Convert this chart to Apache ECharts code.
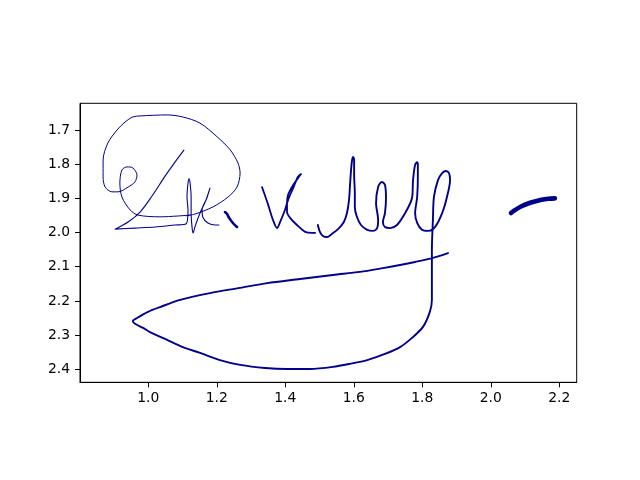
<!DOCTYPE html>
<html>
<head>
<meta charset="utf-8">
<script src="https://cdn.jsdelivr.net/npm/echarts@6/dist/echarts.min.js"></script>
<style>html,body{margin:0;padding:0;background:#fff}#c{width:640px;height:480px}</style>
</head>
<body>
<div id="c"></div>
<script>
// Signature strokes: [x, y] pairs in data units
var strokeLoop = [[1.122,1.949],[1.034,1.954],[0.970,1.949],[0.947,1.934],[0.923,1.896],[0.917,1.855],[0.923,1.817],[0.938,1.808],[0.955,1.811],[0.967,1.832],[0.961,1.852],[0.941,1.867],[0.912,1.881],[0.894,1.881],[0.874,1.867],[0.868,1.837],[0.868,1.788],[0.882,1.738],[0.909,1.700],[0.932,1.677],[0.955,1.662],[0.976,1.659],[1.055,1.656],[1.101,1.662],[1.151,1.680],[1.201,1.720],[1.239,1.758],[1.262,1.797],[1.268,1.826],[1.259,1.867],[1.233,1.896],[1.189,1.925],[1.136,1.946],[1.110,1.951]];
var strokeDiag = [[1.104,1.759],[1.078,1.794],[1.049,1.835],[1.011,1.893],[0.976,1.940],[0.941,1.969],[0.903,1.990],[0.961,1.987],[1.020,1.984],[1.078,1.978],[1.110,1.975],[1.116,1.934],[1.113,1.896],[1.116,1.855],[1.119,1.843],[1.122,1.855],[1.125,1.896],[1.125,1.943],[1.128,1.987],[1.131,2.001],[1.136,1.984],[1.151,1.943],[1.166,1.911],[1.180,1.870],[1.171,1.899],[1.157,1.934],[1.160,1.957],[1.174,1.972],[1.195,1.978],[1.206,1.978]];
var strokeDot = [[1.224,1.940],[1.230,1.946],[1.236,1.957],[1.247,1.972],[1.259,1.984]];
var strokeK = [[1.332,1.867],[1.350,1.919],[1.364,1.963],[1.376,1.987],[1.385,1.969],[1.399,1.934],[1.408,1.905],[1.423,1.870],[1.437,1.837],[1.446,1.829],[1.440,1.837],[1.423,1.861],[1.408,1.890],[1.405,1.914],[1.405,1.940],[1.414,1.957],[1.434,1.978],[1.458,1.998],[1.478,2.001],[1.487,2.001]];
var strokeElly = [[1.495,1.978],[1.501,1.998],[1.510,2.010],[1.522,2.013],[1.536,2.004],[1.554,1.990],[1.571,1.969],[1.580,1.943],[1.586,1.905],[1.589,1.861],[1.592,1.817],[1.595,1.788],[1.598,1.779],[1.601,1.788],[1.601,1.832],[1.603,1.884],[1.603,1.925],[1.609,1.954],[1.621,1.978],[1.639,1.992],[1.656,1.995],[1.668,1.987],[1.671,1.963],[1.665,1.914],[1.671,1.867],[1.682,1.852],[1.691,1.861],[1.694,1.899],[1.691,1.943],[1.685,1.969],[1.691,1.984],[1.706,1.987],[1.726,1.978],[1.750,1.943],[1.770,1.899],[1.773,1.846],[1.779,1.802],[1.785,1.794],[1.787,1.802],[1.787,1.837],[1.785,1.896],[1.779,1.943],[1.785,1.972],[1.799,1.992],[1.817,1.995],[1.837,1.984],[1.858,1.943],[1.872,1.896],[1.881,1.846],[1.878,1.826],[1.869,1.820],[1.858,1.826],[1.846,1.846],[1.834,1.896],[1.831,1.963],[1.828,2.051],[1.828,2.139],[1.828,2.197],[1.822,2.232],[1.802,2.276],[1.770,2.308],[1.735,2.335],[1.691,2.355],[1.639,2.373],[1.589,2.384],[1.539,2.393],[1.472,2.399],[1.405,2.399],[1.341,2.396],[1.268,2.387],[1.209,2.373],[1.151,2.352],[1.101,2.335],[1.055,2.314],[1.005,2.291],[0.985,2.279],[0.961,2.267],[0.955,2.259],[0.967,2.250],[0.999,2.232],[1.034,2.218],[1.093,2.197],[1.180,2.177],[1.268,2.162],[1.347,2.148],[1.443,2.136],[1.539,2.124],[1.618,2.115],[1.685,2.104],[1.735,2.095],[1.779,2.086],[1.831,2.074],[1.875,2.060]];
var strokeDash = [[2.059,1.943],[2.068,1.936],[2.088,1.924],[2.115,1.913],[2.145,1.905],[2.168,1.901],[2.187,1.900]];

var xTicks = [1.0, 1.2, 1.4, 1.6, 1.8, 2.0, 2.2];
var yTicks = [1.7, 1.8, 1.9, 2.0, 2.1, 2.2, 2.3, 2.4];

var strokes = [
  {data: strokeLoop, width: 1.0},
  {data: strokeDiag, width: 1.1},
  {data: strokeDot, width: 2.6},
  {data: strokeK, width: 1.8},
  {data: strokeElly, width: 1.9},
  {data: strokeDash, width: 4.6}
];

var chart = echarts.init(document.getElementById('c'), null, {renderer: 'canvas'});
var labelStyle = {color: '#000', fontSize: 13.9, fontFamily: 'DejaVu Sans', formatter: function (v) { return Number(v).toFixed(1); }};
chart.setOption({
  animation: false,
  backgroundColor: '#fff',
  grid: {left: 80, right: 63.3, top: 103.3, bottom: 97.7, show: true, borderColor: '#000', borderWidth: 1, backgroundColor: 'transparent'},
  xAxis: {
    type: 'value', min: 0.8006, max: 2.2508,
    axisLine: {show: true, onZero: false, lineStyle: {color: '#000', width: 1}},
    axisTick: {show: true, length: 5, lineStyle: {color: '#000', width: 1}, customValues: xTicks},
    axisLabel: Object.assign({margin: 9, customValues: xTicks}, labelStyle),
    splitLine: {show: false}
  },
  yAxis: {
    type: 'value', inverse: true, min: 1.622, max: 2.438,
    axisLine: {show: true, onZero: false, lineStyle: {color: '#000', width: 1}},
    axisTick: {show: true, length: 5, lineStyle: {color: '#000', width: 1}, customValues: yTicks},
    axisLabel: Object.assign({margin: 10, customValues: yTicks}, labelStyle),
    splitLine: {show: false}
  },
  series: strokes.map(function (s) {
    return {
      type: 'line', data: s.data, showSymbol: false, symbol: 'none', smooth: 0.3,
      lineStyle: {color: '#00008b', width: s.width, cap: 'round', join: 'round'},
      emphasis: {disabled: true}
    };
  })
});
</script>
</body>
</html>
